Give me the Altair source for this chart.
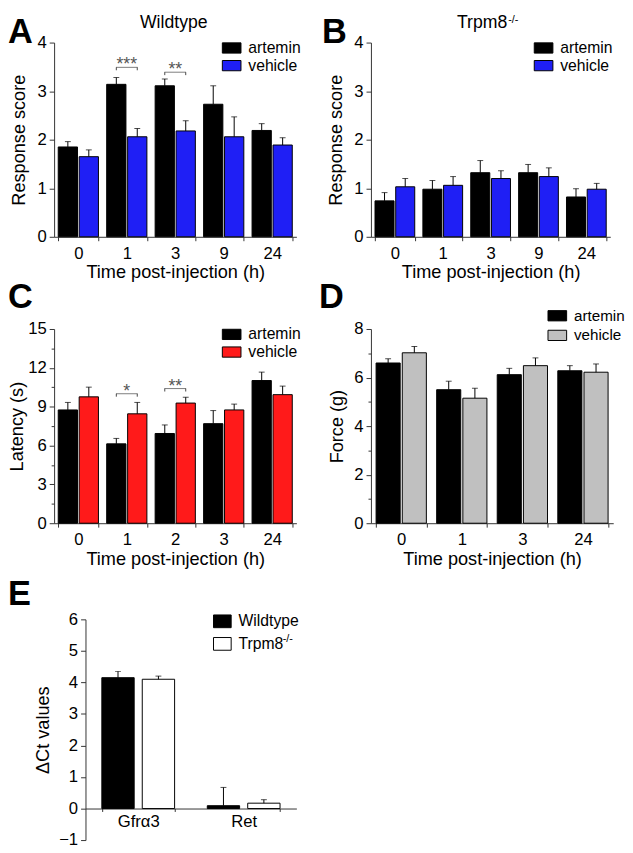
import altair as alt
import pandas as pd

FONT = "Liberation Sans"
AXC = "#333333"

# ---------------- data ----------------
# Panel A: Wildtype, response score
a_time = ["0", "1", "3", "9", "24"]
a_artemin = [1.85, 3.14, 3.11, 2.73, 2.19]
a_artemin_err = [0.11, 0.14, 0.14, 0.38, 0.14]
a_vehicle = [1.65, 2.06, 2.18, 2.06, 1.89]
a_vehicle_err = [0.14, 0.17, 0.21, 0.41, 0.15]
a_sig_time = ["1", "3"]
a_sig_level = [3.49, 3.39]
a_sig_text = ["***", "**"]

# Panel B: Trpm8-/-, response score
b_time = ["0", "1", "3", "9", "24"]
b_artemin = [0.74, 0.98, 1.32, 1.32, 0.82]
b_artemin_err = [0.17, 0.18, 0.25, 0.17, 0.17]
b_vehicle = [1.03, 1.06, 1.20, 1.24, 0.98]
b_vehicle_err = [0.17, 0.18, 0.16, 0.18, 0.12]

# Panel C: latency
c_time = ["0", "1", "2", "3", "24"]
c_artemin = [8.75, 6.13, 6.93, 7.69, 11.02]
c_artemin_err = [0.58, 0.42, 0.66, 1.01, 0.65]
c_vehicle = [9.76, 8.45, 9.28, 8.75, 9.93]
c_vehicle_err = [0.75, 0.88, 0.45, 0.45, 0.66]
c_sig_time = ["1", "2"]
c_sig_level = [10.0, 10.4]
c_sig_text = ["*", "**"]

# Panel D: force
d_time = ["0", "1", "3", "24"]
d_artemin = [6.60, 5.50, 6.12, 6.28]
d_artemin_err = [0.17, 0.35, 0.26, 0.21]
d_vehicle = [7.02, 5.15, 6.49, 6.22]
d_vehicle_err = [0.26, 0.41, 0.32, 0.34]

# Panel E: delta Ct
e_gene = ["Gfr\u03b13", "Ret"]
e_wt = [4.15, 0.09]
e_wt_err = [0.20, 0.58]
e_ko = [4.10, 0.17]
e_ko_err = [0.10, 0.11]

SERIES_AD = ["artemin", "vehicle"]
SERIES_E = ["Wildtype", "Trpm8"]


def long_df(cats, names, vals, errs):
    rows = []
    for name, v, e in zip(names, vals, errs):
        for c, vv, ee in zip(cats, v, e):
            rows.append({"cat": c, "grp": name, "val": vv, "hi": vv + ee})
    return pd.DataFrame(rows)


def y_axis(title, major, minor, lo, hi, title_x, offset=0):
    n = int(round((hi - lo) / minor))
    vals = [round(lo + i * minor, 4) for i in range(n + 1)]
    test = f"abs(datum.value/{major} - round(datum.value/{major})) < 0.001"
    return alt.Axis(
        title=title, values=vals, labelExpr=f"{test} ? datum.label : ''",
        tickSize={"condition": {"test": test, "value": 5}, "value": 3},
        labelPadding=3, labelOverlap=False, titleX=title_x, titleBaseline="middle",
        titleAngle=270, format="d", offset=offset,
    )


def panel(cats, series, df, colors, ydom, major, minor, ytitle, ytitle_x,
          xtitle, w, h, letter, letter_x, letter_y, legend_xy, xaxis_offset=0,
          x_pad=(0.17, 0.085), xo_pad=0.08, label_pad=5, tick_x=4, sig=None,
          title_layers=(), legend_size=361, legend_path="M-1,-0.55H1V0.55H-1Z",
          legend_rowpad=0, legend_font=16, x_range=None, y_range=None, yaxis_offset=0):
    base = alt.Chart(df)
    if xtitle is not None:
        xaxis = alt.Axis(title=xtitle, tickBand="extent", tickSize=tick_x, labelAngle=0,
                         labelPadding=label_pad, offset=xaxis_offset, titleY=42,
                         titleBaseline="alphabetic")
    else:
        xaxis = alt.Axis(title=None, tickBand="extent", tickSize=tick_x, labelAngle=0,
                         labelPadding=label_pad, offset=xaxis_offset)
    if x_range is not None:
        xsc = alt.Scale(paddingInner=x_pad[0], paddingOuter=x_pad[1], range=x_range)
    else:
        xsc = alt.Scale(paddingInner=x_pad[0], paddingOuter=x_pad[1])
    x = alt.X("cat:N", sort=cats, scale=xsc, axis=xaxis)
    xo = alt.XOffset("grp:N", sort=series, scale=alt.Scale(paddingInner=xo_pad))
    yax = y_axis(ytitle, major, minor, ydom[0], ydom[1], ytitle_x, yaxis_offset)
    if y_range is not None:
        ysc = alt.Scale(domain=list(ydom), nice=False, zero=True, range=y_range)
    else:
        ysc = alt.Scale(domain=list(ydom), nice=False, zero=True)
    bars = base.mark_bar(strokeWidth=1, stroke="black").encode(
        x=x, xOffset=xo,
        y=alt.Y("val:Q", scale=ysc, axis=yax),
        fill=alt.Fill("grp:N", sort=series, scale=alt.Scale(domain=series, range=colors),
                      legend=alt.Legend(
                          title=None, orient="none", legendX=legend_xy[0], legendY=legend_xy[1],
                          symbolType=legend_path, symbolSize=legend_size,
                          symbolStrokeColor="black", symbolStrokeWidth=1,
                          labelFont=FONT, labelFontSize=legend_font, labelColor="black",
                          labelOffset=7, rowPadding=legend_rowpad, padding=0)),
    )
    err = base.mark_rule(color="black", strokeWidth=1).encode(
        x=x, xOffset=xo, y=alt.Y("val:Q", scale=ysc, axis=yax), y2="hi:Q")
    cap = base.mark_tick(color="black", thickness=1, size=6, orient="horizontal").encode(
        x=x, xOffset=xo, y=alt.Y("hi:Q", scale=ysc, axis=yax))
    layers = [bars, err, cap]
    if sig is not None:
        sig_cats, sig_levels, sig_texts = sig
        sdf = pd.DataFrame({"cat": sig_cats, "level": sig_levels, "txt": sig_texts})
        ddf = pd.DataFrame([{"cat": c, "grp": g, "level": l}
                            for c, l in zip(sig_cats, sig_levels) for g in series])
        layers.append(alt.Chart(sdf).mark_tick(color="#444", thickness=1, size=22,
                                               orient="horizontal").encode(
            x=x, y=alt.Y("level:Q", scale=ysc, axis=yax)))
        layers.append(alt.Chart(ddf).mark_rule(color="#444", strokeWidth=1, y2Offset=3).encode(
            x=x, xOffset=xo, y=alt.Y("level:Q", scale=ysc, axis=yax), y2="level:Q"))
        layers.append(alt.Chart(sdf).mark_text(color="#555", font=FONT, fontSize=18,
                                               baseline="alphabetic", dy=3).encode(
            x=x, y=alt.Y("level:Q", scale=ysc, axis=yax), text="txt:N"))
    let_df = pd.DataFrame({"t": [letter]})
    layers.append(alt.Chart(let_df).mark_text(font=FONT, fontSize=35, fontWeight="bold",
                                              align="left", baseline="alphabetic",
                                              color="black").encode(
        text="t:N", x=alt.value(letter_x), y=alt.value(letter_y)))
    for (txt, tx, ty, fs, al) in title_layers:
        layers.append(alt.Chart(pd.DataFrame({"t": [txt]})).mark_text(
            font=FONT, fontSize=fs, align=al, baseline="alphabetic", color="black").encode(
            text="t:N", x=alt.value(tx), y=alt.value(ty)))
    return alt.layer(*layers).properties(width=w, height=h)


XT = "Time post-injection (h)"

A = panel(a_time, SERIES_AD,
          long_df(a_time, SERIES_AD, [a_artemin, a_vehicle], [a_artemin_err, a_vehicle_err]),
          ["#000000", "#1f1ff5"], (0, 4), 1, 0.5,
          "Response score", -36, XT, 247, 198, "A", -47, 0, (171, -4.5),
          sig=(a_sig_time, a_sig_level, a_sig_text),
          title_layers=[("Wildtype", 122, -15, 18, "center")])

B = panel(b_time, SERIES_AD,
          long_df(b_time, SERIES_AD, [b_artemin, b_vehicle], [b_artemin_err, b_vehicle_err]),
          ["#000000", "#1f1ff5"], (0, 4), 1, 0.5,
          "Response score", -36, XT, 244, 198, "B", -50, 0, (166, -4.5),
          title_layers=[("Trpm8", 139, -15, 18, "right"), ("-/-", 140, -20, 11, "left")])

C = panel(c_time, SERIES_AD,
          long_df(c_time, SERIES_AD, [c_artemin, c_vehicle], [c_artemin_err, c_vehicle_err]),
          ["#000000", "#ff1a1a"], (0, 15), 3, 1.5,
          "Latency (s)", -38, XT, 247, 198, "C", -47, -21, (171, -4.5),
          sig=(c_sig_time, c_sig_level, c_sig_text))

D = panel(d_time, SERIES_AD,
          long_df(d_time, SERIES_AD, [d_artemin, d_vehicle], [d_artemin_err, d_vehicle_err]),
          ["#000000", "#c0c0c0"], (0, 8), 2, 1,
          "Force (g)", -35, XT, 247, 198, "D", -53, -21, (180, -23.5), legend_font=15.5,
          legend_rowpad=1)

# E is drawn in a 247-wide cell whose x range starts 32 px in, with its y axis moved in to match
E_SHIFT = 32
E_TOP = 4
E = panel(e_gene, SERIES_E,
          long_df(e_gene, SERIES_E, [e_wt, e_ko], [e_wt_err, e_ko_err]),
          ["#000000", "#ffffff"], (-1, 6), 1, 0.5,
          "\u0394Ct values", -43.5, None, 247, 225 + E_TOP, "E", E_SHIFT - 79, -15 + E_TOP,
          (130 + E_SHIFT, -7.5 + E_TOP),
          xaxis_offset=-225 / 7, x_pad=(0.31, 0.155), xo_pad=0.2, label_pad=2, tick_x=3,
          legend_size=324, legend_path="M-1,-0.72H1V0.72H-1Z", legend_rowpad=5,
          title_layers=[("-/-", 201 + E_SHIFT, 23 + E_TOP, 11, "left")],
          x_range=[E_SHIFT, 247], y_range=[225 + E_TOP, E_TOP], yaxis_offset=-E_SHIFT)

chart = alt.concat(A, B, C, D, E, columns=2, bounds="flush",
                   spacing={"row": 94, "column": 76}).resolve_scale(
    fill="independent", x="independent", y="independent", xOffset="independent"
).properties(
    padding={"left": 0, "top": -2, "right": 0, "bottom": 0}
).configure_view(strokeWidth=0).configure_axis(
    labelFont=FONT, titleFont=FONT, labelFontSize=17, titleFontSize=18.5,
    titleFontWeight="normal", labelColor="black", titleColor="black",
    domainColor=AXC, tickColor=AXC, domainWidth=1, tickWidth=1, grid=False,
)

chart.save("out.html", embed_options={"renderer": "svg", "actions": False})
